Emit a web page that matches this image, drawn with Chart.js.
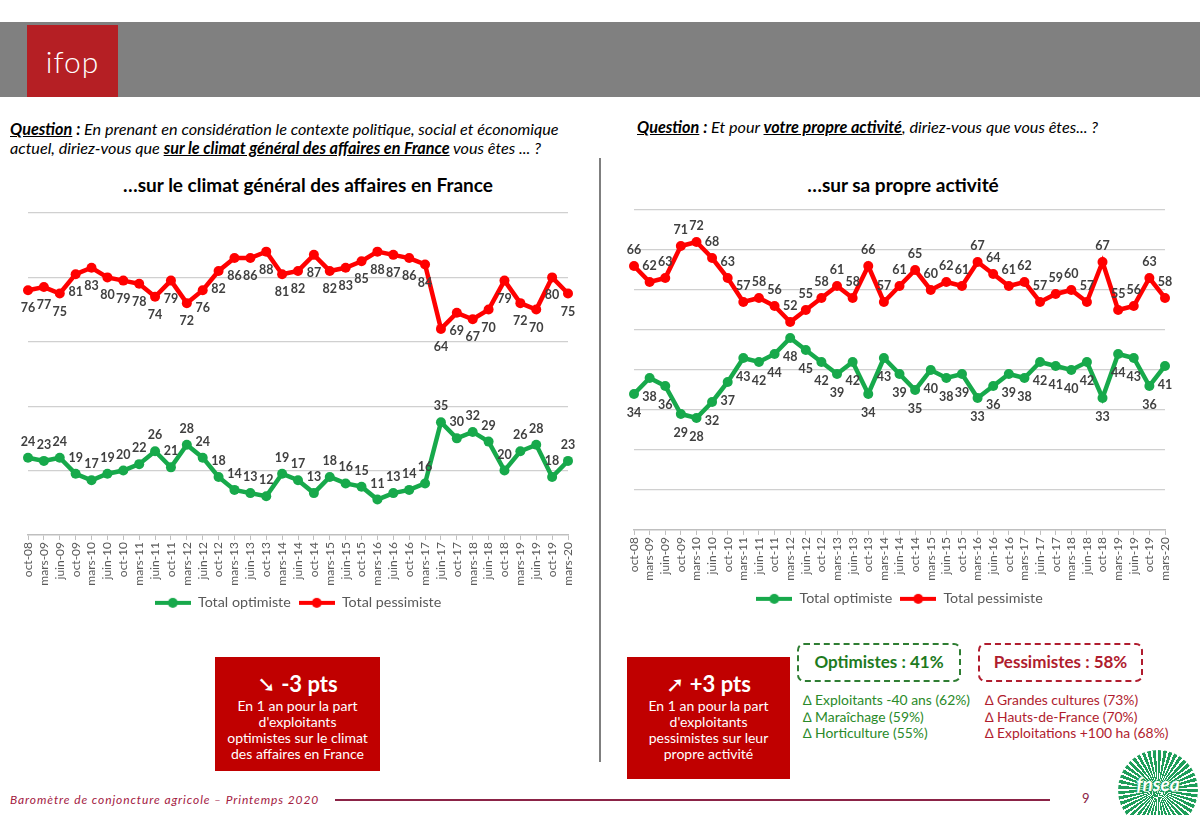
<!DOCTYPE html>
<html><head><meta charset="utf-8">
<script src="https://cdn.jsdelivr.net/npm/chart.js@4.4.1/dist/chart.umd.min.js"></script>
<style>
body{margin:0;width:1200px;height:815px;position:relative;background:#fff;overflow:hidden;font-family:Lato,sans-serif}
.abs{position:absolute}
#hdr{left:0;top:22px;width:1200px;height:75px;background:#808080}
#logo{left:27px;top:25px;width:91px;height:72px;background:#B51F24;color:#fff;font:300 30px Lato,sans-serif;text-align:center;line-height:72px;letter-spacing:1px}
.q{font-family:Lato,sans-serif;font-style:italic;font-size:16.2px;line-height:19px;color:#000;white-space:nowrap}
.q b{font-style:italic;text-decoration:underline}
.title{font:bold 19px Lato,sans-serif;color:#000;text-align:center}
#divider{left:599px;top:158px;width:2px;height:604px;background:#7f7f7f}
.redbox{background:#C00000;color:#fff;text-align:center;font-family:Lato,sans-serif}
.redbox .big{font-weight:bold;font-size:22px;line-height:26px;margin-top:14px}
.redbox .small{font-size:14px;line-height:16px}
.dash{border:2px dashed;border-radius:7px;font-weight:bold;font-size:17px;text-align:center;line-height:34px;box-sizing:border-box}
.list{font-size:13.9px;line-height:16.5px;white-space:nowrap}
#footer{left:10px;top:792px;font-style:italic;font-size:12px;letter-spacing:0.9px;color:#A3203F;white-space:nowrap}
#fline{left:335px;top:799px;width:715px;height:2px;background:#8B2346}
#page{left:1082px;top:790px;font-size:13px;color:#8B2346}
#fnsea{left:1118px;top:750px;width:80px;height:80px;border-radius:50%;background:repeating-conic-gradient(#1e9e5a 0deg 5deg,#ffffff 5deg 8deg);overflow:hidden}
#fnsea span{position:absolute;left:0;top:22px;width:80px;text-align:center;font:bold italic 19px Lato,sans-serif;color:#fff;text-shadow:0 0 3px #1e9e5a,0 0 3px #1e9e5a}
</style></head><body>
<div id="hdr" class="abs"></div>
<div id="logo" class="abs">ifop</div>

<div class="abs q" style="left:10px;top:119px;width:590px">
<b>Question</b> <b style="text-decoration:none">:</b> En prenant en considération le contexte politique, social et économique<br>actuel, diriez-vous que <b>sur le climat général des affaires en France</b> vous êtes ... ?
</div>
<div class="abs q" style="left:637px;top:117px;width:560px">
<b>Question</b> <b style="text-decoration:none">:</b> Et pour <b>votre propre activité</b>, diriez-vous que vous êtes... ?
</div>

<div class="abs title" style="left:8px;top:173px;width:600px">…sur le climat général des affaires en France</div>
<div class="abs title" style="left:603px;top:173px;width:600px">…sur sa propre activité</div>

<div id="divider" class="abs"></div>

<div class="abs" style="left:0;top:195px;width:600px;height:425px"><canvas id="c1" width="600" height="425"></canvas></div>
<div class="abs" style="left:601px;top:190px;width:599px;height:426px"><canvas id="c2" width="599" height="426"></canvas></div>

<div class="abs redbox" style="left:215px;top:657px;width:165px;height:114px">
<div class="big"><span style="font-family:'DejaVu Sans'">➘</span> -3 pts</div>
<div class="small">En 1 an pour la part<br>d'exploitants<br>optimistes sur le climat<br>des affaires en France</div>
</div>
<div class="abs redbox" style="left:627px;top:657px;width:163px;height:122px">
<div class="big"><span style="font-family:'DejaVu Sans'">➚</span> +3 pts</div>
<div class="small">En 1 an pour la part<br>d'exploitants<br>pessimistes sur leur<br>propre activité</div>
</div>

<div class="abs dash" style="left:797px;top:643px;width:164px;height:39px;border-color:#2e7d32;color:#1e7b1e">Optimistes : 41%</div>
<div class="abs dash" style="left:978px;top:643px;width:165px;height:39px;border-color:#b01c2e;color:#b01c2e">Pessimistes : 58%</div>
<div class="abs list" style="left:803px;top:692px;color:#2a8a2a">∆ Exploitants -40 ans (62%)<br>∆ Maraîchage (59%)<br>∆ Horticulture (55%)</div>
<div class="abs list" style="left:985px;top:692px;color:#b01c2e">∆ Grandes cultures (73%)<br>∆ Hauts-de-France (70%)<br>∆ Exploitations +100 ha (68%)</div>

<div id="footer" class="abs">Baromètre de conjoncture agricole – Printemps 2020</div>
<div id="fline" class="abs"></div>
<div id="page" class="abs">9</div>
<div id="fnsea" class="abs"><span>fnsea</span></div>

<script>
const categories = ["oct-08","mars-09","juin-09","oct-09","mars-10","juin-10","oct-10","mars-11","juin-11","oct-11","mars-12","juin-12","oct-12","mars-13","juin-13","oct-13","mars-14","juin-14","oct-14","mars-15","juin-15","oct-15","mars-16","juin-16","oct-16","mars-17","juin-17","oct-17","mars-18","juin-18","oct-18","mars-19","juin-19","oct-19","mars-20"];
const seriesNames = ["Total optimiste","Total pessimiste"];
const climatOptimiste = [24,23,24,19,17,19,20,22,26,21,28,24,18,14,13,12,19,17,13,18,16,15,11,13,14,16,35,30,32,29,20,26,28,18,23];
const climatPessimiste = [76,77,75,81,83,80,79,78,74,79,72,76,82,86,86,88,81,82,87,82,83,85,88,87,86,84,64,69,67,70,79,72,70,80,75];
const activiteOptimiste = [34,38,36,29,28,32,37,43,42,44,48,45,42,39,42,34,43,39,35,40,38,39,33,36,39,38,42,41,40,42,33,44,43,36,41];
const activitePessimiste = [66,62,63,71,72,68,63,57,58,56,52,55,58,61,58,66,57,61,65,60,62,61,67,64,61,62,57,59,60,57,67,55,56,63,58];
const climatAxis = {min:0, max:100, step:20};
const activiteAxis = {min:0, max:80, step:10};

const GREEN = '#17A94B', RED = '#FF0000';

function legendIcon(color){
  const c = document.createElement('canvas'); c.width = 36; c.height = 12;
  const x = c.getContext('2d');
  x.strokeStyle = color; x.lineWidth = 4; x.beginPath(); x.moveTo(0,6); x.lineTo(36,6); x.stroke();
  x.fillStyle = color; x.beginPath(); x.arc(18,6,5,0,Math.PI*2); x.fill();
  return c;
}
const icons = [legendIcon(GREEN), legendIcon(RED)];

const labelPlugin = {
  id:'pointLabels',
  afterDatasetsDraw(chart){
    const ctx = chart.ctx;
    ctx.save();
    ctx.font = 'bold 12.5px Lato, sans-serif';
    ctx.fillStyle = '#404040';
    ctx.textAlign = 'center'; ctx.textBaseline = 'middle';
    chart.data.datasets.forEach((ds,i)=>{
      const meta = chart.getDatasetMeta(i);
      meta.data.forEach((pt,j)=>{
        ctx.fillText(String(ds.data[j]), pt.x, pt.y + ds.labelOffset);
      });
    });
    ctx.restore();
  }
};

function makeChart(id, opt, pess, axis, greenOff, redOff, pad, extra){
  return new Chart(document.getElementById(id), {
    type:'line',
    data:{
      labels:categories,
      datasets:[
        {label:seriesNames[0], data:opt, borderColor:GREEN, backgroundColor:GREEN, borderWidth:4.5, pointRadius:5, pointBackgroundColor:GREEN, pointBorderWidth:0, tension:0, labelOffset:greenOff},
        {label:seriesNames[1], data:pess, borderColor:RED, backgroundColor:RED, borderWidth:4.5, pointRadius:5, pointBackgroundColor:RED, pointBorderWidth:0, tension:0, labelOffset:redOff}
      ]
    },
    options:{
      responsive:false, animation:false, devicePixelRatio:1,
      layout:{padding:pad},
      plugins:{
        tooltip:{enabled:false},
        legend:{position:'bottom',
          labels:{usePointStyle:true, pointStyleWidth:36, boxHeight:12, padding:8, color:'#595959', font:{family:'Lato', size:14.3},
            generateLabels(chart){
              const items = Chart.defaults.plugins.legend.labels.generateLabels(chart);
              items.forEach((it,k)=>{ it.pointStyle = icons[k]; });
              return items;
            }}}
      },
      scales:{
        x:{offset:false,
          grid:{display:true, drawOnChartArea:false, drawTicks:true, tickLength:5, color:'#BFBFBF', lineWidth:1},
          border:{display:true, color:'#BFBFBF', width:1.5},
          ticks:{autoSkip:false, maxRotation:90, minRotation:90, padding:2, color:'#595959', font:{family:'Lato', size:12}},
          afterFit(s){ s.height += extra; }},
        y:{min:axis.min, max:axis.max,
          ticks:{display:false, stepSize:axis.step},
          border:{display:false},
          grid:{drawTicks:false, color:(c)=> c.tick && c.tick.value===0 ? 'rgba(0,0,0,0)' : '#D0D0D0', lineWidth:1.2},
          afterFit(s){ s.width = 0; }}
      }
    },
    plugins:[labelPlugin]
  });
}

Chart.defaults.scale.grid.borderDash = [5,4];
makeChart('c1', climatOptimiste, climatPessimiste, climatAxis, -16, 18, {top:18, left:28, right:32, bottom:0}, 0);
makeChart('c2', activiteOptimiste, activitePessimiste, activiteAxis, 19, -16, {top:20, left:33, right:35, bottom:0}, 1);
</script>
</body></html>
